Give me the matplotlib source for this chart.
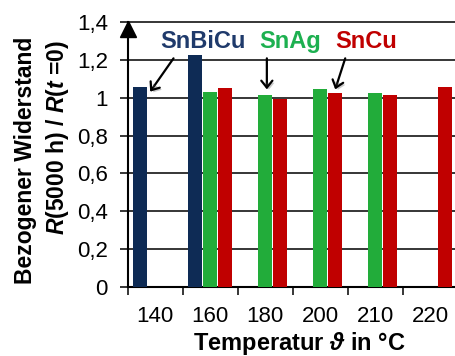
import numpy as np
import matplotlib
matplotlib.use("Agg")
import matplotlib.pyplot as plt
import matplotlib.patheffects as pe

# -----------------------------
# Data
# -----------------------------
categories = ["140", "160", "180", "200", "210", "220"]
snbicu = [1.055, 1.225, np.nan, np.nan, np.nan, np.nan]
snag = [np.nan, 1.030, 1.015, 1.048, 1.025, np.nan]
sncu = [np.nan, 1.053, 0.993, 1.027, 1.016, 1.058]
yticks = [0, 0.2, 0.4, 0.6, 0.8, 1.0, 1.2, 1.4]

# -----------------------------
# Style
# -----------------------------
plt.rcParams["font.family"] = ["Liberation Sans", "DejaVu Sans"]
plt.rcParams["mathtext.fontset"] = "custom"
plt.rcParams["mathtext.bfit"] = "Liberation Sans:italic:bold"
plt.rcParams["mathtext.it"] = "Liberation Sans:italic"
plt.rcParams["mathtext.rm"] = "Liberation Sans"

NAVY = "#0E2B55"
GREEN = "#22AC3A"
RED = "#C00000"

fig = plt.figure(figsize=(4.55, 3.56), dpi=100)
ax = fig.add_axes([127.7 / 455, 69 / 356, 330 / 455, 265 / 356])

x = np.arange(len(categories))
off = 0.273
w = 0.245

ax.bar(x - off, snbicu, width=w, color=NAVY, zorder=3)
ax.bar(x, snag, width=w, color=GREEN, zorder=3)
ax.bar(x + off, sncu, width=w, color=RED, zorder=3)

ax.set_xlim(-0.5, 5.5)
ax.set_ylim(0, 1.4)

# grid
for v in yticks[1:]:
    ax.axhline(v, color="black", lw=1.1, zorder=1, clip_on=False)

for s in ["top", "right"]:
    ax.spines[s].set_visible(False)
ax.spines["left"].set_linewidth(1.5)
ax.spines["bottom"].set_linewidth(1.5)

# arrow head on y axis
ax.plot([-0.5], [1.362], marker="^", ms=11.5, color="black",
        clip_on=False, zorder=5)

ax.set_yticks(yticks)
ax.set_yticklabels([f"{v:g}".replace(".", ",") for v in yticks])
ax.tick_params(axis="y", direction="out", length=5.8, width=1.1,
               labelsize=16, pad=8.5)

ax.set_xticks(np.arange(-0.5, 6, 1))
ax.set_xticklabels([])
ax.tick_params(axis="x", which="major", direction="out", length=5.8, width=1.1)
ax.set_xticks(x, minor=True)
ax.set_xticklabels(categories, minor=True)
ax.tick_params(axis="x", which="minor", length=0, labelsize=16, pad=14)

# axis labels
fig.text(26 / 455, 1 - 160 / 356, "Bezogener Widerstand", rotation=90,
         ha="center", va="center", fontsize=16.5, fontweight="bold")
fig.text(58 / 455, 1 - 138 / 356,
         r"$\mathbfit{R}$(5000 h) / $\mathbfit{R}$($\mathbfit{t}$ =0)",
         rotation=90, ha="center", va="center", fontsize=16.5,
         fontweight="bold")
fig.text(299 / 455, 6 / 356, r"Temperatur $\mathbfit{\vartheta}$ in °C",
         ha="center", va="baseline", fontsize=17, fontweight="bold")

# series labels with arrows
shadow = [pe.withSimplePatchShadow(offset=(1.5, -1.5), alpha=0.3)]
ax.text(0.864, 1.2625, "SnBiCu", color="#1F3A6B", fontsize=17,
        fontweight="bold", ha="center", va="baseline")
ax.text(2.455, 1.2625, "SnAg", color="#1DB050", fontsize=17,
        fontweight="bold", ha="center", va="baseline")
ax.text(3.836, 1.2625, "SnCu", color=RED, fontsize=17,
        fontweight="bold", ha="center", va="baseline")

arrows = [((0.333, 1.208), (-0.091, 1.032)),
          ((2.03, 1.208), (2.03, 1.044)),
          ((3.455, 1.208), (3.273, 1.044))]
for start, tip in arrows:
    ax.annotate("", xy=tip, xytext=start,
                arrowprops=dict(arrowstyle="->,head_length=0.5,head_width=0.4",
                                color="black", lw=1.6,
                                shrinkA=0, shrinkB=0,
                                path_effects=shadow),
                zorder=6)

fig.savefig("out.png", dpi=100)
